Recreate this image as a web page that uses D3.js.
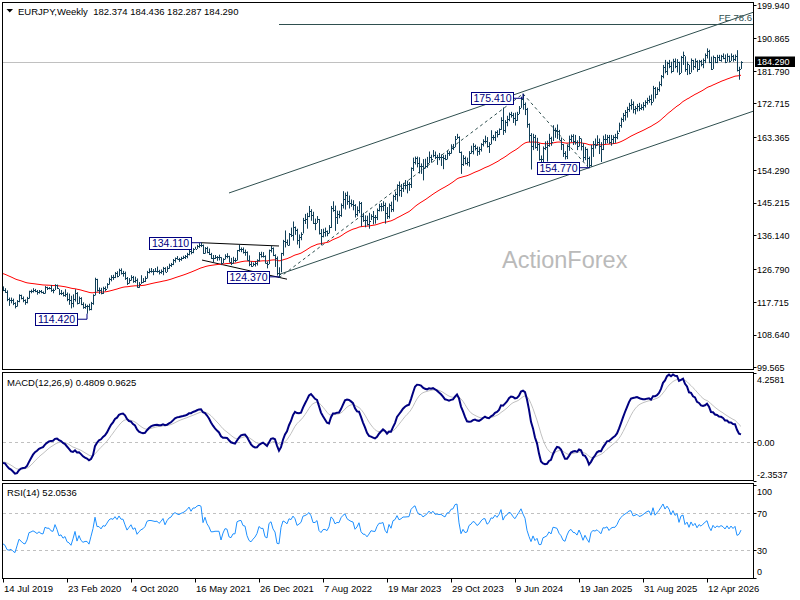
<!DOCTYPE html>
<html>
<head>
<meta charset="utf-8">
<script src="https://cdn.jsdelivr.net/npm/d3@7"></script>
<style>
  body { margin: 0; background: #fff; }
  svg { display: block; font-family: "Liberation Sans", Arial, sans-serif; }
</style>
</head>
<body>
<script>
// ---- data ----
const symbolTitle = 'EURJPY,Weekly';
const lastBar = [182.374, 184.436, 182.287, 184.290];   // O H L C of the last week
const firstWeek = '14 Jul 2019';
const firstOpen = 121.3;

// weekly closes, one per bar starting 14 Jul 2019 (10 per row)
const closes = [
  121.1, 120.5, 118.4, 118.1, 118.3, 117.3, 116.6, 118.0, 119.6, 118.9,
  118.1, 117.8, 118.7, 120.6, 120.8, 121.1, 120.8, 120.4, 120.8, 120.4,
  120.3, 121.8, 121.6, 121.6, 121.1, 121.0, 122.4, 121.5, 120.1, 120.3,
  119.5, 119.8, 118.5, 118.2, 117.5, 118.6, 120.1, 117.4, 118.7, 117.1,
  116.4, 116.6, 116.6, 115.7, 117.4, 119.5, 124.1, 121.1, 121.1, 120.3,
  121.6, 121.4, 122.7, 124.1, 124.7, 124.5, 125.7, 125.0, 126.6, 125.8,
  125.8, 124.4, 122.9, 123.8, 124.7, 123.4, 123.9, 121.9, 122.7, 123.3,
  123.6, 124.3, 126.1, 126.4, 126.4, 126.3, 126.2, 126.3, 125.9, 126.4,
  127.2, 126.1, 127.2, 128.0, 128.3, 129.3, 129.8, 129.6, 129.5, 129.9,
  130.1, 130.5, 131.0, 131.9, 131.4, 132.5, 132.5, 133.2, 133.5, 133.4,
  131.3, 132.7, 131.6, 131.0, 130.0, 130.0, 130.1, 130.1, 130.1, 128.4,
  129.6, 130.5, 130.4, 128.8, 128.6, 129.3, 129.3, 132.0, 132.3, 132.4,
  131.5, 131.4, 129.4, 128.1, 127.7, 128.2, 128.6, 129.3, 130.9, 130.5,
  130.5, 128.6, 128.3, 132.0, 132.6, 130.8, 129.9, 125.6, 125.4, 131.2,
  134.7, 134.3, 133.6, 136.5, 136.2, 138.4, 137.5, 135.0, 135.7, 136.6,
  140.4, 140.8, 141.6, 142.9, 141.9, 139.6, 139.6, 140.6, 136.8, 135.9,
  137.2, 137.3, 136.8, 138.4, 143.8, 143.1, 141.2, 142.0, 141.9, 144.7,
  146.3, 147.3, 145.7, 145.2, 144.8, 144.6, 142.1, 143.1, 145.0, 141.5,
  140.4, 140.3, 139.2, 140.2, 141.5, 141.3, 141.2, 143.1, 144.4, 144.4,
  144.7, 142.4, 141.4, 144.7, 143.4, 147.0, 147.6, 150.0, 148.6, 149.2,
  150.2, 150.2, 150.3, 150.4, 154.7, 156.5, 157.7, 156.2, 155.3, 155.4,
  154.7, 155.5, 156.3, 157.9, 157.4, 158.5, 157.8, 157.9, 157.8, 157.9,
  157.6, 157.4, 158.9, 159.0, 160.5, 160.7, 163.0, 163.3, 159.4, 155.9,
  157.5, 156.3, 156.5, 159.0, 159.6, 160.8, 160.5, 159.6, 160.2, 161.4,
  162.3, 162.4, 161.0, 161.6, 163.5, 163.4, 164.8, 164.3, 165.6, 168.2,
  165.5, 167.6, 168.3, 169.9, 169.6, 168.7, 168.2, 169.9, 171.6, 173.9,
  172.5, 171.3, 167.0, 164.0, 161.0, 163.5, 160.6, 161.6, 157.2, 157.2,
  160.3, 160.7, 161.3, 163.1, 162.0, 165.5, 165.3, 165.0, 162.7, 161.4,
  158.9, 158.2, 160.8, 162.9, 163.6, 162.2, 162.0, 160.9, 163.1, 161.0,
  157.8, 160.0, 157.7, 155.6, 160.5, 161.6, 161.3, 162.0, 161.0, 160.0,
  163.0, 162.9, 163.5, 161.9, 163.0, 163.4, 163.4, 164.6, 166.8, 168.3,
  169.6, 170.4, 171.2, 172.4, 172.5, 171.2, 171.5, 172.0, 171.5, 171.7,
  172.3, 173.0, 173.7, 174.0, 173.2, 177.0, 175.3, 176.6, 178.0, 180.2,
  182.9, 181.6, 184.0, 183.2, 181.6, 184.5, 183.0, 184.3, 181.2, 185.5,
  186.2, 182.2, 183.8, 181.3, 184.9, 183.0, 184.6, 182.3, 184.4, 183.6,
  184.9, 186.1, 187.2, 184.3, 182.4, 185.6, 184.3, 185.5, 184.9, 185.8,
  185.3, 184.3, 185.9, 184.6, 186.0, 185.0, 186.0, 181.9, 182.374, 184.29
];

const highs = [
  122.0, 121.5, 120.9, 118.9, 118.9, 118.6, 117.6, 118.2, 119.8, 119.7,
  119.2, 118.4, 119.1, 120.8, 121.1, 121.5, 121.3, 121.0, 121.0, 121.0,
  120.6, 122.1, 121.9, 121.8, 122.4, 121.4, 122.6, 122.5, 121.3, 121.0,
  120.5, 121.2, 120.3, 120.0, 119.4, 119.8, 121.2, 120.4, 119.2, 119.0,
  117.6, 117.2, 116.9, 117.2, 117.7, 119.8, 124.4, 124.1, 121.7, 121.6,
  121.9, 122.0, 122.9, 124.4, 125.1, 125.2, 126.0, 126.2, 126.9, 127.0,
  126.3, 126.1, 124.6, 124.3, 125.1, 124.9, 124.7, 124.2, 123.2, 125.1,
  124.3, 124.8, 126.3, 127.0, 127.1, 126.8, 127.1, 127.5, 126.6, 126.7,
  127.4, 127.3, 127.6, 128.3, 128.5, 129.6, 130.0, 130.4, 129.9, 130.2,
  130.5, 130.7, 131.3, 132.1, 132.5, 132.6, 133.0, 133.5, 134.0, 134.11,
  133.6, 132.9, 133.0, 132.5, 131.3, 130.7, 130.7, 130.4, 130.8, 130.1,
  129.8, 130.9, 131.2, 130.5, 129.9, 130.2, 129.9, 132.1, 133.5, 132.8,
  132.8, 132.2, 131.7, 130.6, 128.9, 128.6, 129.0, 129.5, 131.5, 131.6,
  131.5, 130.6, 128.9, 132.2, 133.2, 132.8, 130.9, 130.3, 127.3, 131.3,
  134.9, 137.5, 135.0, 136.8, 138.3, 140.0, 138.6, 138.0, 136.4, 137.0,
  141.0, 142.1, 142.4, 144.3, 143.4, 142.7, 140.8, 141.5, 140.7, 137.9,
  138.0, 138.3, 137.5, 139.0, 144.3, 145.6, 144.4, 143.0, 143.0, 145.0,
  148.4, 148.0, 148.3, 147.2, 146.1, 145.9, 144.8, 144.2, 145.6, 145.4,
  142.4, 141.7, 141.6, 142.4, 142.0, 142.9, 141.8, 143.6, 144.9, 145.1,
  145.6, 145.2, 144.0, 145.0, 145.5, 147.4, 148.3, 150.3, 151.1, 150.4,
  150.7, 151.5, 151.3, 150.9, 155.0, 157.7, 158.0, 158.0, 157.8, 156.1,
  157.3, 157.4, 157.9, 159.4, 158.5, 159.8, 159.4, 158.5, 159.0, 158.6,
  158.4, 158.5, 159.6, 159.5, 161.4, 161.5, 163.7, 164.3, 163.6, 159.4,
  158.4, 158.0, 157.7, 159.5, 161.0, 161.7, 161.3, 160.8, 160.7, 161.7,
  162.8, 163.8, 163.4, 162.0, 165.3, 164.0, 165.0, 165.3, 165.8, 168.9,
  171.6, 168.1, 169.3, 170.2, 170.4, 170.1, 170.2, 170.4, 172.0, 174.6,
  175.41, 173.0, 171.5, 167.2, 164.5, 164.3, 164.0, 163.2, 161.7, 158.3,
  160.8, 162.2, 162.4, 164.3, 163.5, 166.7, 166.0, 166.9, 165.4, 163.3,
  161.5, 159.5, 161.3, 163.8, 164.1, 164.2, 164.0, 162.5, 163.7, 163.0,
  161.7, 160.7, 160.2, 158.0, 161.2, 162.3, 163.0, 163.9, 163.0, 162.0,
  163.8, 164.2, 164.0, 164.0, 164.0, 163.9, 164.3, 165.2, 167.4, 168.8,
  170.1, 170.9, 171.8, 172.9, 173.9, 173.3, 172.0, 172.6, 172.9, 172.5,
  173.1, 173.6, 174.3, 174.9, 175.2, 177.6, 177.3, 177.2, 178.8, 180.6,
  183.4, 184.8, 184.3, 184.8, 184.3, 185.1, 185.2, 185.0, 184.3, 185.9,
  187.1, 185.8, 184.3, 183.4, 185.2, 184.8, 185.2, 184.7, 184.8, 184.8,
  185.2, 186.6, 188.0, 187.6, 185.7, 186.0, 185.6, 186.2, 186.2, 186.2,
  186.6, 186.3, 186.6, 186.0, 186.6, 186.2, 186.3, 187.5, 182.9, 184.436
];

const lows = [
  120.7, 120.2, 117.9, 116.6, 117.3, 116.8, 115.9, 116.4, 117.6, 118.4,
  117.6, 116.9, 117.3, 118.6, 120.1, 120.3, 120.4, 119.7, 120.0, 120.1,
  119.9, 120.0, 121.0, 121.2, 120.5, 120.1, 121.0, 121.3, 119.6, 119.6,
  119.2, 119.1, 117.9, 116.9, 115.9, 116.2, 117.8, 117.0, 117.2, 116.8,
  115.8, 115.8, 114.42, 115.3, 115.4, 116.9, 119.5, 120.6, 119.9, 119.8,
  119.9, 120.7, 121.4, 122.5, 123.4, 123.8, 124.3, 124.5, 124.9, 125.3,
  124.7, 123.8, 122.4, 122.8, 123.6, 123.0, 123.0, 121.6, 121.6, 122.7,
  123.0, 123.2, 124.2, 125.6, 125.8, 125.1, 126.0, 125.8, 125.3, 125.5,
  125.1, 125.9, 126.0, 126.9, 127.4, 127.9, 128.6, 129.4, 128.8, 129.1,
  129.6, 129.6, 129.8, 130.6, 130.9, 131.2, 132.3, 132.4, 132.7, 132.9,
  131.0, 131.1, 131.2, 130.7, 129.6, 128.6, 129.6, 129.1, 129.2, 127.9,
  128.4, 129.5, 129.8, 128.6, 127.9, 128.3, 128.7, 129.2, 131.6, 131.5,
  131.1, 130.5, 129.1, 127.6, 127.4, 127.6, 127.5, 127.8, 128.9, 130.0,
  130.0, 128.3, 127.0, 128.2, 131.4, 130.4, 127.4, 125.0, 124.37, 125.9,
  130.5, 132.8, 133.4, 133.3, 135.7, 134.7, 136.3, 133.6, 132.6, 134.8,
  136.7, 139.3, 138.0, 141.2, 140.2, 139.3, 137.6, 139.6, 136.4, 133.4,
  135.6, 135.8, 135.9, 136.7, 138.2, 142.7, 137.4, 139.3, 140.9, 141.3,
  143.6, 143.3, 144.6, 143.6, 144.1, 143.1, 141.1, 141.4, 142.3, 138.6,
  139.9, 138.4, 138.9, 138.0, 140.4, 139.2, 139.4, 140.4, 142.8, 142.8,
  142.9, 139.4, 140.7, 140.8, 142.6, 142.7, 145.9, 145.5, 147.0, 146.8,
  148.2, 148.9, 147.8, 148.5, 149.3, 154.0, 155.8, 155.0, 153.3, 153.2,
  151.4, 154.7, 154.9, 156.2, 156.3, 157.8, 157.3, 155.7, 157.0, 155.4,
  154.5, 157.0, 157.2, 158.2, 158.8, 159.8, 160.6, 162.9, 159.0, 153.2,
  155.4, 155.8, 155.5, 155.2, 158.8, 158.6, 159.7, 158.2, 158.5, 159.4,
  160.8, 161.6, 160.5, 159.0, 161.4, 162.5, 162.3, 163.3, 164.0, 165.4,
  164.0, 164.6, 166.4, 167.8, 168.8, 167.3, 166.6, 167.9, 169.8, 171.5,
  171.0, 169.5, 166.0, 162.0, 154.4, 159.8, 160.2, 159.6, 156.9, 155.2,
  155.6, 159.8, 156.6, 160.7, 161.0, 162.3, 163.2, 162.9, 162.5, 159.8,
  157.9, 157.2, 157.3, 159.6, 162.0, 161.2, 161.3, 159.8, 160.8, 159.7,
  156.6, 157.0, 155.3, 154.77, 155.2, 157.9, 160.2, 161.0, 158.7, 156.5,
  159.8, 161.5, 161.7, 161.5, 161.0, 161.5, 161.8, 162.8, 164.8, 166.0,
  167.6, 168.0, 168.8, 170.4, 171.0, 170.0, 169.7, 170.5, 170.6, 170.9,
  170.8, 171.6, 172.4, 172.9, 172.2, 173.2, 174.1, 175.1, 176.0, 177.5,
  179.7, 181.1, 180.6, 182.5, 181.1, 181.5, 182.5, 181.3, 180.6, 181.2,
  183.4, 181.5, 180.6, 180.8, 181.3, 182.0, 182.5, 181.5, 182.0, 183.0,
  182.5, 183.9, 185.2, 183.9, 182.0, 182.3, 183.9, 183.9, 184.5, 184.3,
  185.0, 183.9, 184.3, 184.1, 184.5, 184.3, 184.5, 181.6, 179.3, 182.287
];

// indicator starting values read at the left edge of each panel
const seedEma55 = 125.7;
const seedEma12 = 122.1;
const seedEma26 = 123.4;
const seedSignal = -1.2;
const seedGain = 0.42;
const seedLoss = 0.72;
const macdReadout = [0.4809, 0.9625];
const rsiReadout = 52.0536;

const priceTicks = [199.940, 190.865, 181.790, 172.715, 163.365, 154.290,
                    145.215, 136.140, 126.790, 117.715, 108.640, 99.565];
const macdTicks = [4.2581, 0.00, -2.3537];
const rsiTicks = [100, 70, 30, 0];
const rsiLevels = [70, 30];
const dateTicks = ['14 Jul 2019', '23 Feb 2020', '4 Oct 2020', '16 May 2021',
                   '26 Dec 2021', '7 Aug 2022', '19 Mar 2023', '29 Oct 2023',
                   '9 Jun 2024', '19 Jan 2025', '31 Aug 2025', '12 Apr 2026'];

// swing labels: bar index, price, and how far the box sits below the price
const pivots = [
  { bar: 42, price: 114.42, dy: 5.5 },
  { bar: 99, price: 134.11, dy: 0 },
  { bar: 138, price: 124.37, dy: -1 },
  { bar: 260, price: 175.41, dy: 4.5 },
  { bar: 293, price: 154.77, dy: -0.5 }
];
// drawn objects, as [bar, price] anchors
const channelUpper = [[113, 147.9], [260, 176.0]];
const channelLower = [[138.5, 125.4], [293, 154.9]];
const zigzag = [[138, 124.37], [260, 175.41], [293, 154.77]];
const wedgeUpper = [[99, 134.11], [138, 133.2]];
const wedgeLower = [[99.5, 129.3], [142, 124.0]];
const feLevel = { label: 'FE 78.6', price: 194.89, fromBar: 138 };

// ---- layout ----
const W = 800, H = 600;
const AXIS_X = 753.5;
const main = { top: 2.5, bottom: 369.5 };
const macdPane = { top: 372.5, bottom: 480.5 };
const rsiPane = { top: 483.5, bottom: 578.5 };
const BAR_COLOR = '#113f58';
const SLATE = '#2f4f4f';
const NAVY = '#000080';

const svg = d3.select('body').append('svg')
  .attr('width', W).attr('height', H);
svg.append('rect').attr('width', W).attr('height', H).attr('fill', '#fff');

const x = d3.scaleLinear().domain([0, 375]).range([3, 753]);
const yPrice = d3.scaleLinear().domain([99.565, 199.94]).range([367.3, 5.3]);
const yMacd = d3.scaleLinear().domain([-2.3537, 4.2581]).range([480.5, 372.5]);
const yRsi = d3.scaleLinear().domain([0, 100]).range([577.5, 485]);

// clip paths for the three panes
const defs = svg.append('defs');
[['clipMain', main], ['clipMacd', macdPane], ['clipRsi', rsiPane]].forEach(function(p) {
  defs.append('clipPath').attr('id', p[0])
    .append('rect').attr('x', 3).attr('y', p[1].top)
    .attr('width', AXIS_X - 3).attr('height', p[1].bottom - p[1].top);
});

// ---- indicators (computed from the closes) ----
function ema(values, period, seed) {
  const k = 2 / (period + 1);
  let e = seed;
  return values.map(function(v) { e = e + k * (v - e); return e; });
}
const ema55 = ema(closes, 55, seedEma55);
const ema12 = ema(closes, 12, seedEma12);
const ema26 = ema(closes, 26, seedEma26);
const macd = ema12.map(function(v, i) { return v - ema26[i]; });
const signal = ema(macd, 9, seedSignal);

let avgGain = seedGain, avgLoss = seedLoss, prevClose = firstOpen;
const rsi = closes.map(function(c) {
  const d = c - prevClose;
  prevClose = c;
  avgGain = (avgGain * 13 + Math.max(d, 0)) / 14;
  avgLoss = (avgLoss * 13 + Math.max(-d, 0)) / 14;
  return 100 - 100 / (1 + avgGain / avgLoss);
});

const opens = closes.map(function(c, i) { return i === 0 ? firstOpen : closes[i - 1]; });
opens[opens.length - 1] = lastBar[0];

// ---- main pane ----
const gMain = svg.append('g').attr('clip-path', 'url(#clipMain)');

gMain.append('text')
  .attr('x', 502).attr('y', 268)
  .attr('font-size', 23.5)
  .attr('fill', '#bababa')
  .text('ActionForex');

// current price line
gMain.append('line')
  .attr('x1', 3).attr('x2', AXIS_X)
  .attr('y1', Math.round(yPrice(lastBar[3])) + 0.5)
  .attr('y2', Math.round(yPrice(lastBar[3])) + 0.5)
  .attr('stroke', '#c0c0c0');

function anchorLine(g, pts, toBar, color, dash) {
  const slope = (pts[1][1] - pts[0][1]) / (pts[1][0] - pts[0][0]);
  const end = toBar === null ? pts[1] : [toBar, pts[0][1] + slope * (toBar - pts[0][0])];
  const l = g.append('line')
    .attr('x1', x(pts[0][0])).attr('y1', yPrice(pts[0][1]))
    .attr('x2', x(end[0])).attr('y2', yPrice(end[1]))
    .attr('stroke', color).attr('stroke-width', 1);
  if (dash) l.attr('stroke-dasharray', dash);
}

anchorLine(gMain, channelUpper, 376, SLATE);
anchorLine(gMain, channelLower, 376, SLATE);
anchorLine(gMain, wedgeUpper, null, '#000');
anchorLine(gMain, wedgeLower, null, '#000');
for (let k = 0; k < zigzag.length - 1; k++) {
  anchorLine(gMain, [zigzag[k], zigzag[k + 1]], null, SLATE, '3,3');
}

// FE level
gMain.append('line')
  .attr('x1', x(feLevel.fromBar)).attr('x2', AXIS_X)
  .attr('y1', Math.round(yPrice(feLevel.price)) + 0.5)
  .attr('y2', Math.round(yPrice(feLevel.price)) + 0.5)
  .attr('stroke', SLATE);
gMain.append('text')
  .attr('x', 752).attr('y', yPrice(feLevel.price) - 2.5)
  .attr('text-anchor', 'end')
  .attr('font-size', 9.5)
  .attr('fill', SLATE)
  .text(feLevel.label);

// EMA 55
gMain.append('path')
  .datum(ema55)
  .attr('fill', 'none')
  .attr('stroke', '#ff0000')
  .attr('stroke-width', 1)
  .attr('d', d3.line().x(function(d, i) { return x(i); }).y(function(d) { return yPrice(d); }));

// OHLC bars
const bars = gMain.append('g').attr('fill', BAR_COLOR);
closes.forEach(function(c, i) {
  const bx = Math.round(x(i));
  const hi = i === closes.length - 1 ? lastBar[1] : highs[i];
  const lo = i === closes.length - 1 ? lastBar[2] : lows[i];
  const yh = yPrice(hi), yl = yPrice(lo);
  bars.append('rect').attr('x', bx).attr('y', yh).attr('width', 1).attr('height', Math.max(1, yl - yh));
  bars.append('rect').attr('x', bx - 1).attr('y', Math.round(yPrice(opens[i]))).attr('width', 1).attr('height', 1);
  bars.append('rect').attr('x', bx + 1).attr('y', Math.round(yPrice(c))).attr('width', 1).attr('height', 1);
});

// swing labels
pivots.forEach(function(p) {
  const bx = x(p.bar), py = yPrice(p.price);
  const cy = py + p.dy;
  const bw = 42, bh = 12;
  const left = bx - 10 - bw;
  gMain.append('path')
    .attr('d', 'M' + (left + bw) + ',' + cy + 'H' + bx + 'V' + py)
    .attr('fill', 'none').attr('stroke', NAVY);
  gMain.append('rect')
    .attr('x', Math.round(left) + 0.5).attr('y', Math.round(cy - bh / 2) + 0.5)
    .attr('width', bw).attr('height', bh)
    .attr('fill', '#fff').attr('stroke', NAVY);
  gMain.append('text')
    .attr('x', left + bw / 2 + 0.5).attr('y', cy + 4.2)
    .attr('text-anchor', 'middle')
    .attr('font-size', 10.5)
    .attr('fill', NAVY)
    .text(p.price.toFixed(3));
});

// ---- MACD pane ----
const gMacd = svg.append('g').attr('clip-path', 'url(#clipMacd)');
gMacd.append('line')
  .attr('x1', 3).attr('x2', AXIS_X)
  .attr('y1', Math.round(yMacd(0)) + 0.5).attr('y2', Math.round(yMacd(0)) + 0.5)
  .attr('stroke', '#c0c0c0').attr('stroke-dasharray', '3,3');
const macdLine = d3.line().x(function(d, i) { return x(i); }).y(function(d) { return yMacd(d); });
gMacd.append('path').datum(signal)
  .attr('fill', 'none').attr('stroke', '#c0c0c0').attr('stroke-width', 1)
  .attr('d', macdLine);
gMacd.append('path').datum(macd)
  .attr('fill', 'none').attr('stroke', NAVY).attr('stroke-width', 2)
  .attr('d', macdLine);

// ---- RSI pane ----
const gRsi = svg.append('g').attr('clip-path', 'url(#clipRsi)');
rsiLevels.forEach(function(v) {
  gRsi.append('line')
    .attr('x1', 3).attr('x2', AXIS_X)
    .attr('y1', Math.round(yRsi(v)) + 0.5).attr('y2', Math.round(yRsi(v)) + 0.5)
    .attr('stroke', '#c0c0c0').attr('stroke-dasharray', '3,3');
});
gRsi.append('path').datum(rsi)
  .attr('fill', 'none').attr('stroke', '#1e90ff').attr('stroke-width', 1)
  .attr('d', d3.line().x(function(d, i) { return x(i); }).y(function(d) { return yRsi(d); }));

// ---- frames ----
[main, macdPane, rsiPane].forEach(function(p) {
  svg.append('rect')
    .attr('x', 2.5).attr('y', p.top)
    .attr('width', AXIS_X - 2.5).attr('height', p.bottom - p.top)
    .attr('fill', 'none').attr('stroke', '#000');
});

// ---- right axes ----
const axisG = svg.append('g').attr('font-size', 9).attr('fill', '#000');
function rightLabels(ticks, scale, fmt, shift) {
  ticks.forEach(function(v, k) {
    const ty = scale(v);
    axisG.append('line')
      .attr('x1', AXIS_X).attr('x2', AXIS_X + 3)
      .attr('y1', Math.round(ty) + 0.5).attr('y2', Math.round(ty) + 0.5)
      .attr('stroke', '#000');
    axisG.append('text')
      .attr('x', 757).attr('y', ty + 3.8 + (shift ? shift(k, ticks.length) : 0))
      .text(fmt(v));
  });
}
rightLabels(priceTicks, yPrice, function(v) { return v.toFixed(3); });
rightLabels(macdTicks, yMacd, function(v) { return v === 0 ? '0.00' : v.toFixed(4); },
  function(k, n) { return k === 0 ? 7 : (k === n - 1 ? -6 : 0); });
rightLabels(rsiTicks, yRsi, function(v) { return String(v); },
  function(k, n) { return k === 0 ? 6 : (k === n - 1 ? -6 : 0); });

// current price tag
const yLast = yPrice(lastBar[3]);
svg.append('rect')
  .attr('x', 755).attr('y', Math.round(yLast) - 5.5)
  .attr('width', 40).attr('height', 10.5)
  .attr('fill', '#000');
svg.append('text')
  .attr('x', 757).attr('y', yLast + 3.3)
  .attr('font-size', 9).attr('fill', '#fff')
  .text(lastBar[3].toFixed(3));

// ---- date axis ----
const parseDate = d3.timeParse('%d %b %Y');
const start = parseDate(firstWeek);
dateTicks.forEach(function(label) {
  const bar = Math.round(d3.timeDay.count(start, parseDate(label)) / 7);
  const tx = Math.round(x(bar)) + 0.5;
  svg.append('line')
    .attr('x1', tx).attr('x2', tx)
    .attr('y1', rsiPane.bottom).attr('y2', rsiPane.bottom + 4)
    .attr('stroke', '#000');
  svg.append('text')
    .attr('x', tx + 0.5).attr('y', 591.5)
    .attr('font-size', 9.5)
    .text(label);
});

// ---- titles ----
svg.append('path').attr('d', 'M6.5,9 L13,9 L9.75,12.5 Z').attr('fill', '#000');
svg.append('text')
  .attr('x', 18).attr('y', 14.5)
  .attr('font-size', 9.5)
  .attr('xml:space', 'preserve')
  .text(symbolTitle + '  ' + lastBar.map(function(v) { return v.toFixed(3); }).join(' '));
svg.append('text')
  .attr('x', 7).attr('y', 385.5)
  .attr('font-size', 9.5)
  .text('MACD(12,26,9) ' + macdReadout[0].toFixed(4) + ' ' + macdReadout[1].toFixed(4));
svg.append('text')
  .attr('x', 7).attr('y', 496)
  .attr('font-size', 9.5)
  .text('RSI(14) ' + rsiReadout.toFixed(4));
</script>
</body>
</html>
